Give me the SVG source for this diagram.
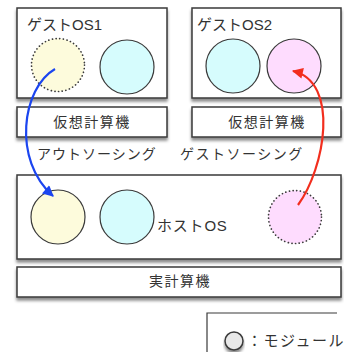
<svg xmlns="http://www.w3.org/2000/svg" width="344" height="352" viewBox="0 0 344 352">
<style>
.box{fill:#fff;stroke:#3a3a3a;stroke-width:1.5;filter:url(#sh)}
.mod{stroke:#3a3a3a;stroke-width:1.2}
.dot{stroke:#3a3a3a;stroke-width:1.7;stroke-dasharray:0.1 3.6;stroke-linecap:round}
.y{fill:#fdfbdc}.c{fill:#d6fcfd}.p{fill:#fedcfe}
text{font-family:"Liberation Sans","Noto Sans CJK JP",sans-serif;fill:#333;font-size:14px}
.t{font-size:15px}
.m{text-anchor:middle;letter-spacing:1.5px}
</style>
<defs>
<filter id="sh" x="-10%" y="-10%" width="120%" height="140%">
<feDropShadow dx="0" dy="3" stdDeviation="1.8" flood-color="#000" flood-opacity="0.45"/>
</filter>
<marker id="ab" viewBox="0 0 10 10" refX="9" refY="5" markerWidth="5.5" markerHeight="5" orient="auto" markerUnits="strokeWidth"><path d="M0,0 L10,5 L0,10 z" fill="#1b45f0"/></marker>
<marker id="ar" viewBox="0 0 10 10" refX="9" refY="5" markerWidth="5.5" markerHeight="5" orient="auto" markerUnits="strokeWidth"><path d="M0,0 L10,5 L0,10 z" fill="#f22e1e"/></marker>
</defs>
<g id="guest1">
<rect class="box" x="17" y="8" width="150" height="90"/>
<text class="t" x="27" y="30">ゲストOS1</text>
<circle class="y dot" cx="58" cy="65" r="26.5"/>
<circle class="c mod" cx="127" cy="67" r="27"/>
</g>
<g id="vm1">
<rect class="box" x="17" y="107" width="150" height="30"/>
<text class="m" x="92" y="127">仮想計算機</text>
</g>
<g id="guest2">
<rect class="box" x="192" y="8" width="149" height="90"/>
<text class="t" x="197" y="30">ゲストOS2</text>
<circle class="c mod" cx="233" cy="66" r="27"/>
<circle class="p mod" cx="294" cy="66" r="27"/>
</g>
<g id="vm2">
<rect class="box" x="192" y="107" width="149" height="30"/>
<text class="m" x="267" y="127">仮想計算機</text>
</g>
<text x="37" y="159" style="letter-spacing:1px">アウトソーシング</text>
<text x="180" y="159" style="letter-spacing:1.5px">ゲストソーシング</text>
<g id="host">
<rect class="box" x="17" y="175" width="324" height="84"/>
<circle class="y mod" cx="58" cy="217" r="27"/>
<circle class="c mod" cx="127" cy="217" r="27"/>
<circle class="p dot" cx="295" cy="217" r="26.5"/>
<text class="t" x="157" y="231" style="letter-spacing:0.8px">ホストOS</text>
</g>
<g id="real">
<rect class="box" x="17" y="267" width="324" height="30"/>
<text class="m" x="180" y="286">実計算機</text>
</g>
<g id="legend">
<path d="M207,352 V313 H337" fill="none" stroke="#3a3a3a" stroke-width="1.2"/>
<circle cx="234" cy="341" r="9" fill="#e8e8e8" stroke="#3a3a3a" stroke-width="1.5" filter="url(#sh)"/>
<text x="247" y="346" style="font-size:15px;letter-spacing:1.5px">：モジュール</text>
</g>
<g id="connectors" fill="none" stroke-width="2.2">
<path d="M55,69 C22,88 12,160 53,196" stroke="#1b45f0" marker-end="url(#ab)"/>
<path d="M298,205 C325,168 340,82 293,71" stroke="#f22e1e" marker-end="url(#ar)"/>
</g>
</svg>
